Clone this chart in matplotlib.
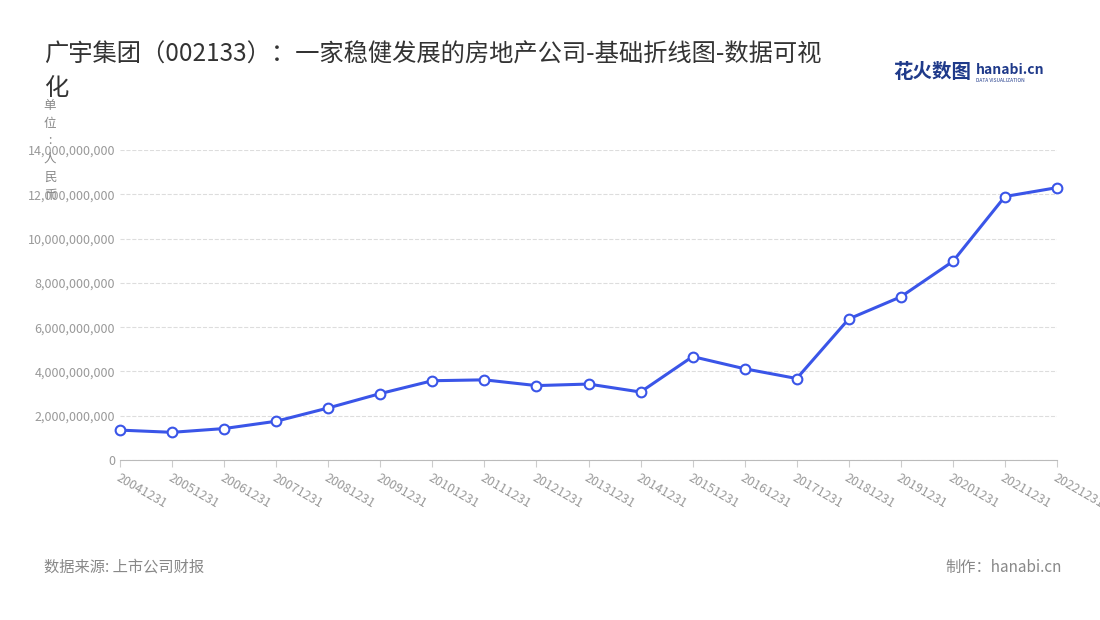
import matplotlib
matplotlib.use('Agg')
import matplotlib.pyplot as plt
from matplotlib.ticker import FuncFormatter

plt.rcParams['font.family'] = ['Noto Sans CJK SC', 'DejaVu Sans']

dates = ['20041231','20051231','20061231','20071231','20081231','20091231','20101231','20111231',
         '20121231','20131231','20141231','20151231','20161231','20171231','20181231','20191231',
         '20201231','20211231','20221231']
values = [1.35e9,1.25e9,1.42e9,1.75e9,2.35e9,3.0e9,3.58e9,3.62e9,3.36e9,3.43e9,3.07e9,4.67e9,
          4.12e9,3.68e9,6.37e9,7.37e9,8.97e9,11.9e9,12.3e9]

fig = plt.figure(figsize=(11, 6.2), dpi=100)
ax = fig.add_axes([120/1100, 1-460/620, (1057-120)/1100, 310/620])
x = list(range(len(dates)))
ax.plot(x, values, color='#3a55e8', lw=2.2, marker='o', ms=7, mfc='white', mec='#3a55e8', mew=1.5, zorder=3, clip_on=False)
ax.set_xlim(0, len(dates)-1)
ax.set_ylim(0, 14e9)
ax.set_yticks([i*2e9 for i in range(8)])
ax.yaxis.set_major_formatter(FuncFormatter(lambda v, p: f'{int(v):,}'))
ax.set_xticks(x)
ax.set_xticklabels(dates, rotation=-30, ha='left', rotation_mode='anchor')
ax.tick_params(axis='both', labelsize=9, colors='#999999', length=0)
ax.tick_params(axis='x', length=5, color='#cccccc')
ax.grid(axis='y', ls='--', color='#dddddd', lw=0.8)
for s in ['top', 'right', 'left']:
    ax.spines[s].set_visible(False)
ax.spines['bottom'].set_color('#bbbbbb')

fig.text(44/1100, 1-55/620, '广宇集团（002133）：一家稳健发展的房地产公司-基础折线图-数据可视', fontsize=17.5, color='#333333', va='center')
fig.text(44/1100, 1-88/620, '化', fontsize=17.5, color='#333333', va='center')
fig.text(50/1100, 1-150/620, '单\n位\n:\n人\n民\n币', fontsize=9, color='#888888', ha='center', va='center', linespacing=1.5)
fig.text(44/1100, 1-567/620, '数据来源: 上市公司财报', fontsize=11, color='#888888', va='center')
fig.text(1062/1100, 1-567/620, '制作：hanabi.cn', fontsize=11, color='#888888', va='center', ha='right')
fig.text(893/1100, 1-72/620, '花火数图', fontsize=14, color='#1f3a8a', va='center', weight='bold')
fig.text(976/1100, 1-70/620, 'hanabi.cn', fontsize=10, color='#1f3a8a', va='center', weight='bold')
fig.text(976/1100, 1-80/620, 'DATA VISUALIZATION', fontsize=3.5, color='#1f3a8a', va='center')
fig.savefig('out.png', dpi=100)
